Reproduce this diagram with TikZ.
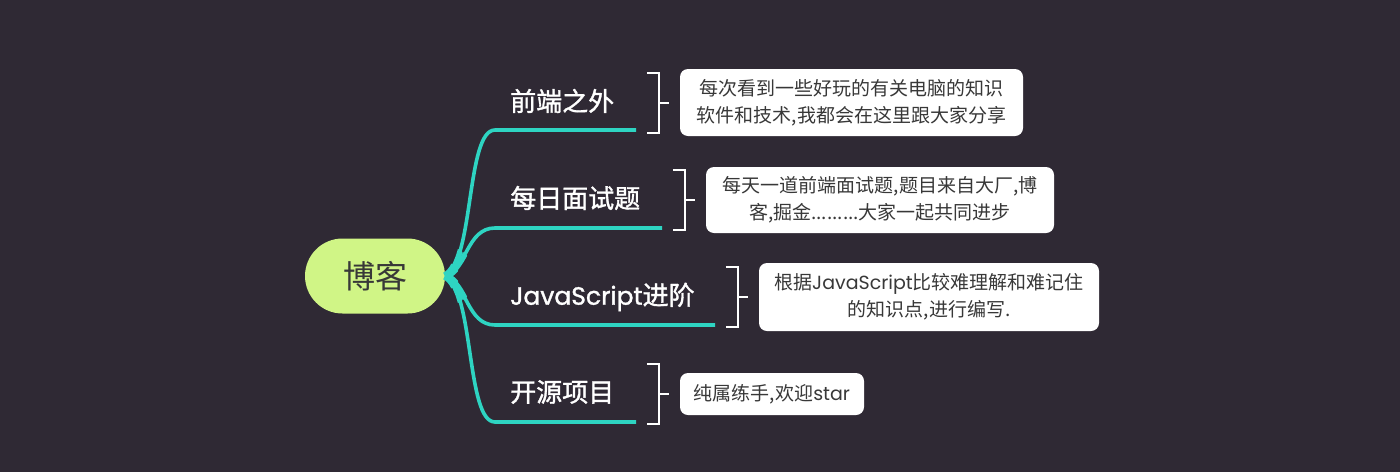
\documentclass[tikz,border=0pt]{standalone}
\usepackage{fontspec}
\newfontfamily\cjk{Noto Sans CJK SC}
\newfontfamily\cjkm[FakeBold=1.3]{Noto Sans CJK SC}
\newfontfamily\lat{Poppins}
\newfontfamily\latm[FakeBold=1.3]{Poppins}
\usetikzlibrary{shapes.misc}
\definecolor{bgc}{RGB}{47,41,52}
\definecolor{rootc}{RGB}{208,245,134}
\definecolor{branchc}{RGB}{46,212,194}
\definecolor{boxtext}{RGB}{56,56,56}
\tikzset{
  rootnode/.style={rounded rectangle, fill=rootc, minimum width=140pt, minimum height=75pt, inner sep=0pt, text=boxtext, font=\cjk\fontsize{32}{38}\selectfont},
  labnode/.style={anchor=west, inner sep=0pt, text=white, font=\cjkm\fontsize{26}{30}\selectfont},
  boxnode/.style={fill=white, rounded corners=8pt, inner sep=0pt, align=center, text=boxtext, font=\cjk\fontsize{19}{27}\selectfont},
  branch/.style={draw=branchc, line width=3.6pt},
  brk/.style={draw=white, line width=2pt},
}
\newcommand{\brkt}[1]{%
  \draw[brk] ([xshift=-11pt]#1.west) -- ++(-10,0);
  \draw[brk] ([xshift=-33pt,yshift=30pt]#1.west) -- ++(12,0) -- ++(0,60) -- ++(-12,0);
}
\begin{document}
\begin{tikzpicture}[x=1pt,y=-1pt]
\fill[bgc] (0,0) rectangle (1400,472);
\useasboundingbox (0,0) rectangle (1400,472);

\node[rootnode] (root) at (375,276) {博客};

\node[labnode] (l1) at (510,101) {前端之外};
\node[labnode] (l2) at (510,198) {每日面试题};
\node[labnode] (l3) at (510,297) {{\latm\fontsize{25}{30}\selectfont JavaScript}进阶};
\node[labnode] (l4) at (510,392) {开源项目};

\coordinate (b1) at (495,130); \coordinate (u1) at (636,130);
\coordinate (b2) at (495,228); \coordinate (u2) at (662,228);
\coordinate (b3) at (495,325); \coordinate (u3) at (715,325);
\coordinate (b4) at (495,422); \coordinate (u4) at (636,422);

\foreach \w/\r in {3.6/1000, 5.4/30, 7.5/14}{
\begin{scope}
\clip (root.east) circle (\r);
\draw[branch, line width=\w pt] (root.east) .. controls +(29,-14) and +(-29,0) .. (b1) -- (u1);
\draw[branch, line width=\w pt] (root.east) .. controls +(22,-8) and +(-28,0) .. (b2) -- (u2);
\draw[branch, line width=\w pt] (root.east) .. controls +(22,8) and +(-28,0) .. (b3) -- (u3);
\draw[branch, line width=\w pt] (root.east) .. controls +(29,14) and +(-29,0) .. (b4) -- (u4);
\end{scope}
}

\node[boxnode, minimum width=343pt, minimum height=67pt] (x1) at (851.5,102.5) {每次看到一些好玩的有关电脑的知识\\软件和技术,我都会在这里跟大家分享};
\node[boxnode, minimum width=348pt, minimum height=66pt] (x2) at (880,200) {每天一道前端面试题,题目来自大厂,博\\客,掘金.........大家一起共同进步};
\node[boxnode, minimum width=340pt, minimum height=68pt] (x3) at (929,297) {根据{\lat JavaScript}比较难理解和难记住\\的知识点,进行编写.};
\node[boxnode, minimum width=184pt, minimum height=42pt] (x4) at (772,394) {纯属练手,欢迎{\lat star}};

\brkt{x1}
\brkt{x2}
\brkt{x3}
\brkt{x4}
\end{tikzpicture}
\end{document}
